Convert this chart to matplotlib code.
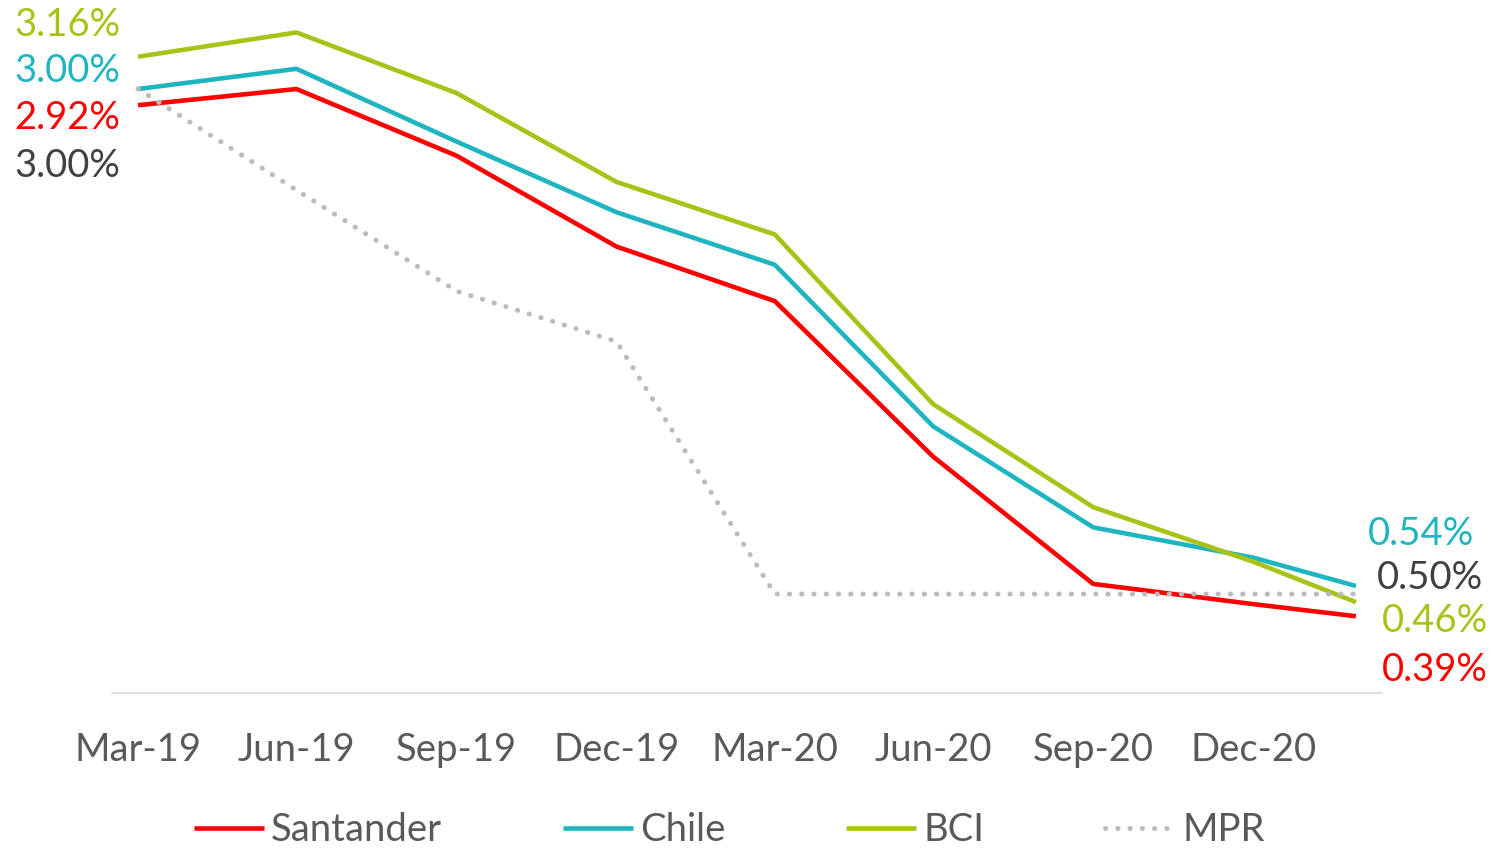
import matplotlib
matplotlib.use("Agg")
import matplotlib.pyplot as plt
import datetime as dt

plt.rcParams['font.family'] = ['Lato', 'DejaVu Sans']

dates = ["2019-03-31", "2019-06-30", "2019-09-30", "2019-12-31", "2020-03-31",
         "2020-06-30", "2020-09-30", "2020-12-31", "2021-02-28"]
tick_labels = ["Mar-19", "Jun-19", "Sep-19", "Dec-19", "Mar-20", "Jun-20", "Sep-20", "Dec-20"]
santander = [2.92, 3.00, 2.67, 2.22, 1.95, 1.18, 0.55, 0.45, 0.39]
chile     = [3.00, 3.10, 2.74, 2.39, 2.13, 1.33, 0.83, 0.68, 0.54]
bci       = [3.16, 3.28, 2.98, 2.54, 2.28, 1.44, 0.93, 0.66, 0.46]
mpr       = [3.00, 2.50, 2.00, 1.75, 0.50, 0.50, 0.50, 0.50, 0.50]

c_san = "#FF0000"
c_chi = "#1FB5C0"
c_bci = "#A8C218"
c_mpr = "#BBBBBB"
c_txt = "#595959"
c_lbl = "#404040"

x = [dt.datetime.strptime(d, "%Y-%m-%d") for d in dates]

W, H = 1490, 849
fig = plt.figure(figsize=(W / 100, H / 100), dpi=100)
ax = fig.add_axes([112 / W, (H - 693) / H, (1382 - 112) / W, 683 / H])

lw = 3.3
l1, = ax.plot(x, santander, color=c_san, lw=lw, label="Santander", solid_capstyle="butt")
l2, = ax.plot(x, chile, color=c_chi, lw=lw, label="Chile", solid_capstyle="butt")
l3, = ax.plot(x, bci, color=c_bci, lw=lw, label="BCI", solid_capstyle="butt")
l4, = ax.plot(x, mpr, color=c_mpr, lw=3.6, label="MPR", linestyle=(0, (0.05, 2.4)),
              dash_capstyle="round")

ax.set_xlim(x[0] - dt.timedelta(days=15), x[-1] + dt.timedelta(days=15))
ax.set_ylim(0.01, 683 / 202 + 0.01)
ax.set_xticks(x[:len(tick_labels)])
ax.set_xticklabels(tick_labels)
fs = 27.5
ax.tick_params(axis='x', length=0, pad=28, labelsize=fs, labelcolor=c_txt)
ax.set_yticks([])
for s in ["top", "right", "left"]:
    ax.spines[s].set_visible(False)
ax.spines["bottom"].set_color("#D9D9D9")
ax.spines["bottom"].set_linewidth(1.2)

# left labels
left = [(bci[0], c_bci, 32), (chile[0], c_chi, 18), (santander[0], c_san, -13), (mpr[0], c_lbl, -77)]
for v, c, dy in left:
    ax.annotate(f"{v:.2f}%", xy=(x[0], v), xytext=(-18, dy), textcoords="offset pixels",
                ha="right", va="center", fontsize=fs, color=c)
right = [(chile[-1], c_chi, 52, 12), (mpr[-1], c_lbl, 16, 21), (bci[-1], c_bci, -19, 26),
         (santander[-1], c_san, -54, 26)]
for v, c, dy, dx in right:
    ax.annotate(f"{v:.2f}%", xy=(x[-1], v), xytext=(dx, dy), textcoords="offset pixels",
                ha="left", va="center", fontsize=fs, color=c)

pxem = fs * 100 / 72
leg = fig.legend(handles=[l1, l2, l3, l4], loc="center", bbox_to_anchor=(0.4895, 1 - 830 / H),
                 ncol=4, frameon=False, fontsize=fs, handlelength=70 / pxem,
                 handletextpad=7 / pxem, columnspacing=121 / pxem, borderpad=0)
for t in leg.get_texts():
    t.set_color(c_txt)

fig.savefig("out.png", dpi=100)
